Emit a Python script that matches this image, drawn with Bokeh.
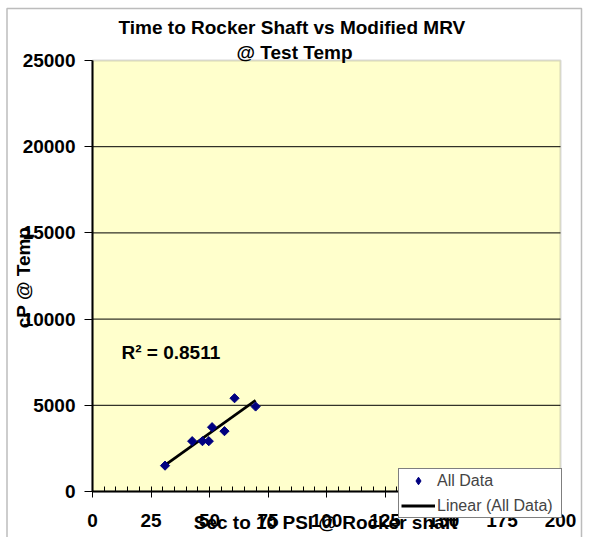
import numpy as np
from bokeh.plotting import figure
from bokeh.models import Range1d, FixedTicker, Label, Legend, LegendItem, BoxAnnotation
from bokeh.embed import file_html
from bokeh.resources import INLINE

# ---- data ----
sec_to_10psi = [31.0, 42.6, 47.0, 49.7, 51.1, 56.4, 60.7, 69.7]
cp_at_temp = [1500, 2920, 2920, 2920, 3730, 3500, 5410, 4930]
x_ticks = [0, 25, 50, 75, 100, 125, 150, 175, 200]
x_tick_labels = ["0", "25", "50", "75", "100", "125", "150", "175", "200"]
x_minor_ticks = list(range(0, 201, 5))
y_ticks = [0, 5000, 10000, 15000, 20000, 25000]
y_tick_labels = ["0", "5000", "10000", "15000", "20000", "25000"]
y_grid_ticks = [5000, 10000, 15000, 20000]
title_line1 = "Time to Rocker Shaft vs Modified  MRV"
title_line2 = "@ Test Temp"
x_label = "Sec to 10 PSI @ Rocker shaft"
y_label = "cP @ Temp"
r2_text = "R\u00b2 = 0.8511"
series_name = "All Data"
trend_name = "Linear (All Data)"

FONT = "Liberation Sans"
W, H = 589, 537
X_MIN, X_MAX = 0, 200
Y_MIN, Y_MAX = 0, 25000
# plot-area edges in canvas pixels
PA_L, PA_R, PA_T, PA_B = 92, 560, 60, 491
kx = (X_MAX - X_MIN) / (PA_R - PA_L)
ky = (Y_MAX - Y_MIN) / (PA_B - PA_T)


def dx(px):
    return X_MIN + (px - PA_L) * kx


def dy(py):
    return Y_MIN + (PA_B - py) * ky


p = figure(width=W, height=H,
           x_range=Range1d(dx(0), dx(W)), y_range=Range1d(dy(H), dy(0)),
           min_border=0, output_backend="svg", toolbar_location=None, title=None)
p.background_fill_color = "white"
p.border_fill_color = "white"
p.outline_line_color = None
p.xgrid.visible = False
p.ygrid.visible = False

# outer chart border
p.add_layout(BoxAnnotation(left=dx(6.5), right=dx(581), top=dy(8), bottom=dy(H + 10),
                           fill_alpha=0, line_color="#202020", line_width=1.5, level="image"))
# plot area
p.add_layout(BoxAnnotation(left=X_MIN, right=X_MAX, bottom=Y_MIN, top=Y_MAX,
                           fill_color="#FFFFCC", fill_alpha=1,
                           line_color="#808080", line_width=2, level="image"))
# horizontal gridlines
p.segment(x0=[X_MIN] * len(y_grid_ticks), x1=[X_MAX] * len(y_grid_ticks),
          y0=y_grid_ticks, y1=y_grid_ticks, line_color="black", line_width=1, level="underlay")

for ax in (p.xaxis[0], p.yaxis[0]):
    ax.axis_line_color = "black"
    ax.axis_line_width = 2
    ax.major_tick_line_color = "black"
    ax.minor_tick_line_color = "black"
    ax.major_tick_line_width = 1
    ax.minor_tick_line_width = 1
    ax.major_label_text_font = FONT
    ax.major_label_text_font_style = "bold"
    ax.major_label_text_font_size = "19px"
    ax.major_label_text_color = "black"

xa = p.xaxis[0]
xa.fixed_location = Y_MIN
xa.bounds = (X_MIN, X_MAX)
xa.ticker = FixedTicker(ticks=x_ticks, minor_ticks=x_minor_ticks)
xa.major_label_overrides = {t: l for t, l in zip(x_ticks, x_tick_labels)}
xa.major_tick_in = 4
xa.major_tick_out = 6
xa.minor_tick_in = 5
xa.minor_tick_out = 0
xa.major_label_standoff = 16

ya = p.yaxis[0]
ya.fixed_location = X_MIN
ya.bounds = (Y_MIN, Y_MAX)
ya.ticker = FixedTicker(ticks=y_ticks, minor_ticks=[])
ya.major_label_overrides = {t: l for t, l in zip(y_ticks, y_tick_labels)}
ya.major_tick_in = 0
ya.major_tick_out = 8
ya.minor_tick_in = 0
ya.minor_tick_out = 0
ya.major_label_standoff = 9

# trendline from the data
xs = np.array(sec_to_10psi)
ys = np.array(cp_at_temp)
slope, intercept = np.polyfit(xs, ys, 1)
tx = [xs.min(), xs.max()]
ty = [slope * tx[0] + intercept, slope * tx[1] + intercept]

line_r = p.line(tx, ty, line_color="black", line_width=2.8)
# diamond used for the legend swatch (sits hidden under the point markers)
legend_marker = p.scatter(sec_to_10psi, cp_at_temp, marker="diamond", size=5,
                          fill_color="#000080", line_color="#000080")
p.scatter(sec_to_10psi, cp_at_temp, marker="square", size=6.5, angle=np.pi / 4,
          fill_color="#000080", line_color="#000080")


def lab(text, px, py, size, align="left", angle=0.0):
    p.add_layout(Label(x=dx(px), y=dy(py), text=text,
                       text_font=FONT, text_font_style="bold", text_font_size=size,
                       text_align=align, text_baseline="middle", angle=angle,
                       text_color="black"))


lab(title_line1, 294, 26.5, "19px", align="center")
lab(title_line2, 294, 52, "19px", align="center")
lab(x_label, 325, 521.5, "19px", align="center")
lab(y_label, 23, 277, "19px", align="center", angle=np.pi / 2)
lab(r2_text, 121, 352, "19px")

legend = Legend(items=[LegendItem(label=series_name, renderers=[legend_marker]),
                       LegendItem(label=trend_name, renderers=[line_r])],
                location=(398, H - 518))
legend.border_line_color = "black"
legend.border_line_width = 1
legend.background_fill_color = "white"
legend.background_fill_alpha = 1
legend.label_text_font = FONT
legend.label_text_font_size = "16px"
legend.glyph_width = 34
legend.glyph_height = 19
legend.label_height = 19
legend.label_width = 122
legend.label_standoff = 2
legend.spacing = 6
legend.padding = 2
legend.margin = 0
p.add_layout(legend)

open("out.html", "w").write(file_html(p, INLINE))
